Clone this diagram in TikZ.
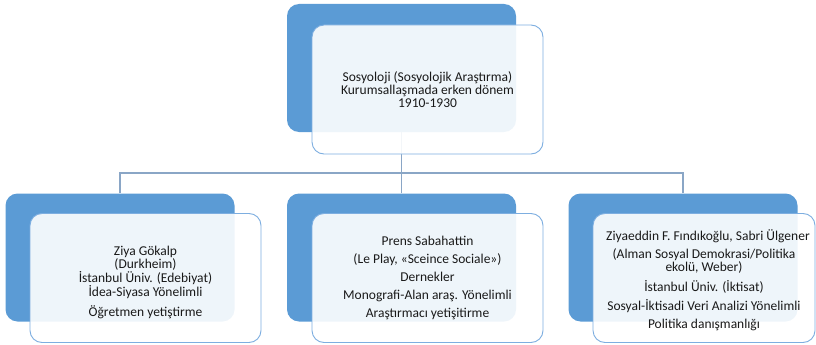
\documentclass[tikz,border=0pt]{standalone}
\usepackage{fontspec}
\setmainfont{Carlito}
\usepackage{tikz}
\usetikzlibrary{positioning}
\definecolor{backblue}{HTML}{5B9BD5}
\definecolor{edgeblue}{HTML}{7DAEE0}
\definecolor{linkblue}{HTML}{8AA6C6}

\begin{document}
\begin{tikzpicture}[x=1pt,y=-1pt,
    back/.style={fill=backblue,rounded corners=12pt,minimum width=229pt,minimum height=128pt,inner sep=0pt},
    front/.style={draw=edgeblue,line width=0.9pt,fill=white,fill opacity=0.9,text opacity=1,rounded corners=12pt,minimum width=231pt,minimum height=129pt,inner sep=0pt,align=center,font=\fontsize{13.5}{12.8}\selectfont,text=black!90},
    link/.style={draw=linkblue,line width=1.1pt}]
            \useasboundingbox (0,0) rectangle (816,345);
            \node[back] (b0) at (401.5,68) {};
            \node[back] (b1) at (120,257.5) {};
            \node[back] (b2) at (401.5,257.5) {};
            \node[back] (b3) at (683,257.5) {};
            \coordinate (bus) at (401.5,173);
            \draw[link] (b0.south) -- (bus);
            \draw[link] (b1.north) |- (bus);
            \draw[link] (b2.north) -- (bus);
            \draw[link] (b3.north) |- (bus);
            \node[front] (f0) at ([shift={(26,21.5)}]b0.center) {Sosyoloji (Sosyolojik Araştırma)\\Kurumsallaşmada erken dönem\\1910-1930};
            \node[front] (f1) at ([shift={(25.5,20.5)}]b1.center) {\rule{0pt}{18pt}Ziya Gökalp\\(Durkheim)\\İstanbul Üniv. (Edebiyat)\\İdea-Siyasa Yönelimli\\[5.5pt]Öğretmen yetiştirme};
            \node[front] (f2) at ([shift={(26,20.5)}]b2.center) {Prens Sabahattin\\[5.2pt](Le Play, «Sceince Sociale»)\\[5.2pt]Dernekler\\[5.2pt]Monografi-Alan araş. Yönelimli\\[5.2pt]Araştırmacı yetişitirme};
            \node[front,minimum width=222pt] (f3) at ([shift={(21,20.5)}]b3.center) {\rule{0pt}{15.5pt}\hspace{8pt}Ziyaeddin F. Fındıkoğlu, Sabri Ülgener\\[5.2pt](Alman Sosyal Demokrasi/Politika\\ekolü, Weber)\\[5.7pt]İstanbul Üniv. (İktisat)\\[5.2pt]Sosyal-İktisadi Veri Analizi Yönelimli\\[5.2pt]Politika danışmanlığı};
        \end{tikzpicture}
\end{document}
